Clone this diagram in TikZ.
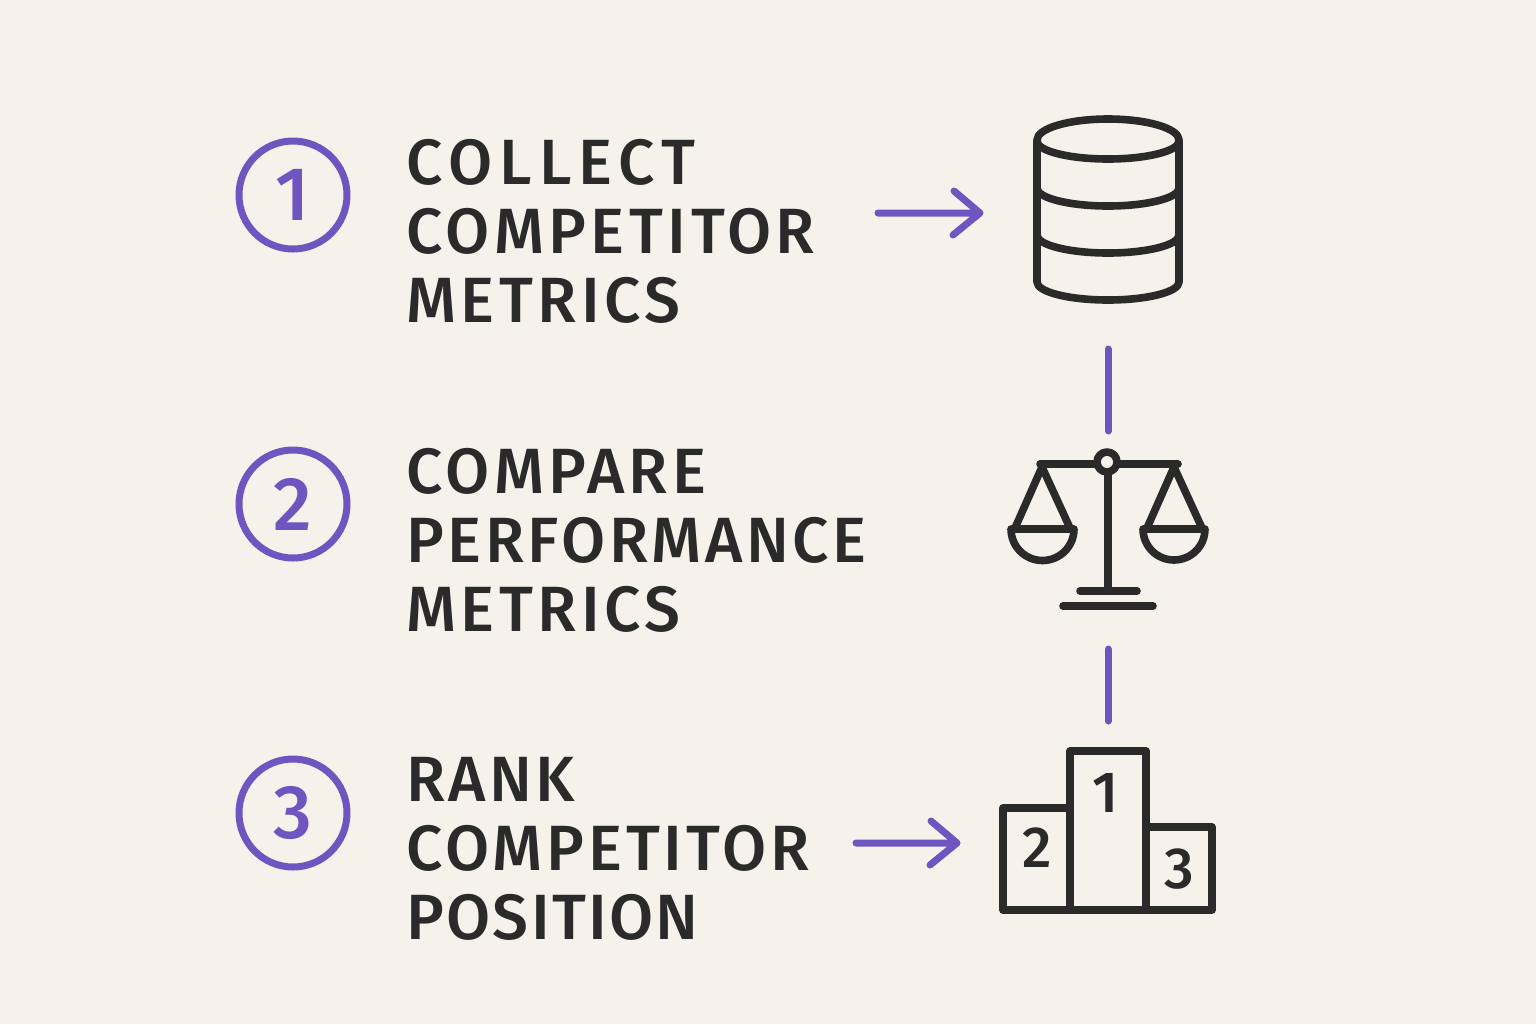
\documentclass[tikz,border=0pt]{standalone}
\usepackage{fontspec}
\setmainfont{Fira Sans Medium}[LetterSpace=7]
\newfontfamily\digitfont{Fira Sans Medium}
\newcommand{\tracked}[2]{{\addfontfeature{LetterSpace=#1}#2}}
\definecolor{paper}{HTML}{F5F2EC}
\definecolor{violet}{HTML}{6F55C0}
\definecolor{ink}{HTML}{2A2A2A}
\tikzset{
  stepring/.style={circle,draw=violet,line width=3.5pt,minimum size=54pt,inner sep=0pt,text=violet,font=\digitfont\fontsize{38}{38}\selectfont},
  steplabel/.style={anchor=west,align=left,text=ink,inner sep=0pt,font=\fontsize{32}{34.5}\selectfont},
  flow/.style={draw=violet,line width=3.5pt,line cap=round,line join=round},
  icon/.style={draw=ink,line width=3.8pt,line cap=round,line join=round},
  rank/.style={text=ink,inner sep=0pt,font=\digitfont\fontsize{29}{29}\selectfont}
}
\begin{document}
\begin{tikzpicture}[x=0.5pt,y=-0.5pt]
\useasboundingbox (0,0) rectangle (1536,1024);
\fill[paper] (0,0) rectangle (1536,1024);
\node[stepring] (s1) at (293,195) {1};
\node[stepring] (s2) at (293,504) {2};
\node[stepring] (s3) at (293,813) {3};
\node[steplabel] (t1) at (406,231) {\tracked{11}{COLLECT}\\COMPETITOR\\METRICS};
\node[steplabel] (t2) at (406,540) {COMPARE\\\tracked{5.5}{PERFORMANCE}\\METRICS};
\node[steplabel] (t3) at (406,849) {\tracked{5}{RANK}\\\tracked{6}{COMPETITOR}\\\tracked{3.5}{POSITION}};
% database
\draw[icon] (1037,140) arc[start angle=180,end angle=360,x radius=71,y radius=21];
\draw[icon] (1037,141) arc[start angle=180,end angle=0,x radius=71,y radius=18];
\draw[icon] (1037,141) -- (1037,282) arc[start angle=180,end angle=0,x radius=71,y radius=18] -- (1179,141);
\draw[icon] (1037,188) arc[start angle=180,end angle=0,x radius=71,y radius=18];
\draw[icon] (1037,235) arc[start angle=180,end angle=0,x radius=71,y radius=18];
% scales
\draw[icon] (1040,464) -- (1097,464) (1118,464) -- (1178,464);
\draw[icon] (1107,462) circle[radius=10];
\draw[icon] (1108,473) -- (1108,591);
\draw[icon] (1080,591) -- (1137,591) (1063,606) -- (1153,606);
\draw[icon] (1015,528) -- (1042,467) -- (1070,528);
\draw[icon] (1147,528) -- (1174,467) -- (1202,528);
\draw[icon] (1011,529) -- (1074,529) arc[start angle=0,end angle=180,radius=31.5] -- cycle;
\draw[icon] (1143,529) -- (1205,529) arc[start angle=0,end angle=180,radius=31] -- cycle;
% podium
\draw[icon] (1070,808) -- (1003,808) -- (1003,910) -- (1212,910) -- (1212,827) -- (1146,827);
\draw[icon] (1070,910) -- (1070,751) -- (1146,751) -- (1146,910);
\node[rank] (r1) at (1106,793) {1};
\node[rank] (r2) at (1037,848) {2};
\node[rank] (r3) at (1179,869) {3};
% connectors
\coordinate (a1s) at (878,213); \coordinate (a1e) at (980,213);
\coordinate (a2s) at (856,843); \coordinate (a2e) at (957,843);
\coordinate (v1s) at (1108,349); \coordinate (v1e) at (1108,431);
\coordinate (v2s) at (1108,649); \coordinate (v2e) at (1108,721);
\draw[flow] (a1s) -- (a1e) ++(-26,-22) -- (a1e) -- ++(-27,22);
\draw[flow] (a2s) -- (a2e) ++(-26,-22) -- (a2e) -- ++(-27,22);
\draw[flow] (v1s) -- (v1e);
\draw[flow] (v2s) -- (v2e);
\end{tikzpicture}
\end{document}
